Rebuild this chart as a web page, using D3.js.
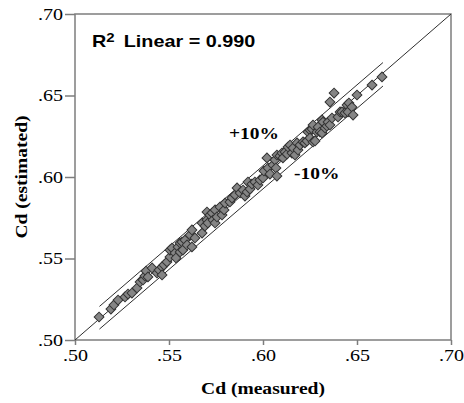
<!DOCTYPE html>
<html>
<head>
<meta charset="utf-8">
<script src="https://cdn.jsdelivr.net/npm/d3@7"></script>
<style>
  body { margin: 0; background: #fff; }
  svg { display: block; }
</style>
</head>
<body>
<svg id="chart" width="464" height="403"></svg>
<script>
// Discharge coefficient: measured vs. estimated
const measured = [
  0.5128, 0.5191, 0.5207, 0.5229, 0.5266, 0.5282, 0.5303, 0.5330, 0.5346, 0.5362,
  0.5372, 0.5378, 0.5388, 0.5410, 0.5436, 0.5447, 0.5463, 0.5463, 0.5473, 0.5489,
  0.5505, 0.5505, 0.5516, 0.5532, 0.5537, 0.5548, 0.5559, 0.5559, 0.5569, 0.5574,
  0.5585, 0.5596, 0.5612, 0.5622, 0.5622, 0.5638, 0.5676, 0.5676, 0.5691, 0.5702,
  0.5702, 0.5707, 0.5718, 0.5729, 0.5734, 0.5745, 0.5745, 0.5755, 0.5771, 0.5782,
  0.5793, 0.5798, 0.5824, 0.5835, 0.5851, 0.5862, 0.5878, 0.5894, 0.5904, 0.5915,
  0.5920, 0.5931, 0.5941, 0.5957, 0.5973, 0.5984, 0.6000, 0.6005, 0.6021, 0.6027,
  0.6037, 0.6053, 0.6064, 0.6069, 0.6074, 0.6074, 0.6090, 0.6101, 0.6106, 0.6117,
  0.6128, 0.6133, 0.6144, 0.6154, 0.6160, 0.6170, 0.6181, 0.6186, 0.6197, 0.6213,
  0.6223, 0.6234, 0.6239, 0.6250, 0.6250, 0.6261, 0.6266, 0.6266, 0.6277, 0.6287,
  0.6293, 0.6303, 0.6314, 0.6314, 0.6319, 0.6330, 0.6340, 0.6346, 0.6356, 0.6356,
  0.6367, 0.6378, 0.6399, 0.6410, 0.6420, 0.6436, 0.6447, 0.6452, 0.6457, 0.6473,
  0.6479, 0.6500, 0.6580, 0.6633
];
const estimated = [
  0.5141, 0.5190, 0.5215, 0.5245, 0.5264, 0.5282, 0.5288, 0.5319, 0.5356, 0.5368,
  0.5393, 0.5423, 0.5387, 0.5442, 0.5411, 0.5429, 0.5448, 0.5399, 0.5460, 0.5479,
  0.5509, 0.5552, 0.5564, 0.5534, 0.5503, 0.5571, 0.5540, 0.5595, 0.5601, 0.5552,
  0.5613, 0.5583, 0.5644, 0.5675, 0.5571, 0.5626, 0.5656, 0.5718, 0.5699, 0.5785,
  0.5736, 0.5718, 0.5767, 0.5779, 0.5736, 0.5798, 0.5718, 0.5755, 0.5816, 0.5767,
  0.5798, 0.5840, 0.5847, 0.5871, 0.5890, 0.5933, 0.5902, 0.5920, 0.5883, 0.5908,
  0.5969, 0.5926, 0.5957, 0.5969, 0.5951, 0.5982, 0.5994, 0.6037, 0.6117, 0.6055,
  0.6018, 0.6074, 0.6104, 0.6055, 0.6006, 0.6135, 0.6129, 0.6147, 0.6117, 0.6153,
  0.6141, 0.6184, 0.6196, 0.6147, 0.6178, 0.6135, 0.6209, 0.6166, 0.6196, 0.6215,
  0.6209, 0.6221, 0.6276, 0.6288, 0.6239, 0.6294, 0.6319, 0.6215, 0.6221, 0.6276,
  0.6307, 0.6276, 0.6270, 0.6350, 0.6337, 0.6301, 0.6313, 0.6337, 0.6319, 0.6460,
  0.6362, 0.6515, 0.6368, 0.6399, 0.6399, 0.6393, 0.6442, 0.6399, 0.6454, 0.6429,
  0.6380, 0.6503, 0.6564, 0.6614
];

// Tolerance band lines: measured end points and their estimated values
const bandMeasured = [0.5130, 0.6638];
const bandUpper = [0.5206, 0.6702];
const bandLower = [0.5067, 0.6558];
const bandLabels = ["+10%", "-10%"];

const axisTicks = [0.50, 0.55, 0.60, 0.65, 0.70];
const axisDomain = [0.50, 0.70];
const rSquared = 0.990;

const svg = d3.select("#chart");
const plot = { left: 75, right: 451, top: 14, bottom: 340 };
const x = d3.scaleLinear().domain(axisDomain).range([plot.left, plot.right]);
const y = d3.scaleLinear().domain(axisDomain).range([plot.bottom, plot.top]);

const frameColor = "#7d7d7d";
const serif = "'Liberation Serif', 'Times New Roman', serif";
const sans = "'Liberation Sans', Arial, sans-serif";
const stretch = 1.18;
const fmt = d => d3.format(".2f")(d).replace(/^0/, "");

// Axes
const xAxis = svg.append("g")
  .attr("transform", `translate(0,${plot.bottom})`)
  .call(d3.axisBottom(x).tickValues(axisTicks).tickFormat(fmt).tickSize(5).tickPadding(4));
const yAxis = svg.append("g")
  .attr("transform", `translate(${plot.left},0)`)
  .call(d3.axisLeft(y).tickValues(axisTicks).tickFormat(fmt).tickSize(10).tickPadding(2));

[xAxis, yAxis].forEach(g => {
  g.select(".domain").remove();
  g.selectAll(".tick line").attr("stroke", frameColor).attr("stroke-width", 1.5);
  g.selectAll(".tick text")
    .attr("fill", "#000")
    .style("font-family", serif)
    .style("font-size", "17px");
});
xAxis.selectAll(".tick text").attr("transform", `scale(${stretch},1)`);
yAxis.selectAll(".tick text").each(function () {
  const ax = +d3.select(this).attr("x");
  d3.select(this).attr("transform", `translate(${ax},0) scale(${stretch},1) translate(${-ax},0)`);
});

// Plot frame
svg.append("rect")
  .attr("x", x(axisDomain[0])).attr("y", y(axisDomain[1]))
  .attr("width", x(axisDomain[1]) - x(axisDomain[0]))
  .attr("height", y(axisDomain[0]) - y(axisDomain[1]))
  .attr("fill", "none").attr("stroke", frameColor).attr("stroke-width", 1.5);

// 1:1 line and tolerance band
const line = d3.line().x(d => x(d[0])).y(d => y(d[1]));
const lines = svg.append("g").attr("fill", "none").attr("stroke", "#2e2e2e").attr("stroke-width", 1);
lines.append("path").attr("d", line(axisDomain.map(v => [v, v])));
lines.append("path").attr("d", line(bandMeasured.map((m, i) => [m, bandUpper[i]])));
lines.append("path").attr("d", line(bandMeasured.map((m, i) => [m, bandLower[i]])));

// Observations
const diamond = d3.symbol(d3.symbolSquare, 48);
svg.append("g")
  .selectAll("path")
  .data(measured.map((m, i) => [m, estimated[i]]))
  .join("path")
  .attr("d", diamond)
  .attr("transform", d => `translate(${x(d[0])},${y(d[1])}) rotate(45)`)
  .attr("fill", "#858585")
  .attr("stroke", "#333")
  .attr("stroke-width", 1);

// Band labels
const bandLabelPos = [[0.5819, 0.6233], [0.6165, 0.5988]];
bandLabels.forEach((t, i) => {
  const px = x(bandLabelPos[i][0]), py = y(bandLabelPos[i][1]);
  svg.append("text")
    .attr("transform", `translate(${px},${py}) scale(${stretch},1)`)
    .style("font-family", serif).style("font-weight", "bold").style("font-size", "16.5px")
    .text(t);
});

// Fit annotation
const fitText = svg.append("text")
  .attr("transform", `translate(92,47) scale(1.2,1)`)
  .style("font-family", sans).style("font-weight", "bold").style("font-size", "16.5px");
fitText.append("tspan").text("R");
fitText.append("tspan").attr("dy", -5).style("font-size", "12.5px").text("2");
fitText.append("tspan").attr("dy", 5).attr("dx", 3).text(` Linear = ${d3.format(".3f")(rSquared)}`);

// Axis titles
svg.append("text")
  .attr("transform", `translate(${(plot.left + plot.right) / 2},394) scale(1.15,1)`)
  .attr("text-anchor", "middle")
  .style("font-family", serif).style("font-weight", "bold").style("font-size", "17px")
  .text("Cd (measured)");
svg.append("text")
  .attr("transform", `translate(27,${(plot.top + plot.bottom) / 2}) rotate(-90) scale(1.15,1)`)
  .attr("text-anchor", "middle")
  .style("font-family", serif).style("font-weight", "bold").style("font-size", "17px")
  .text("Cd (estimated)");
</script>
</body>
</html>
